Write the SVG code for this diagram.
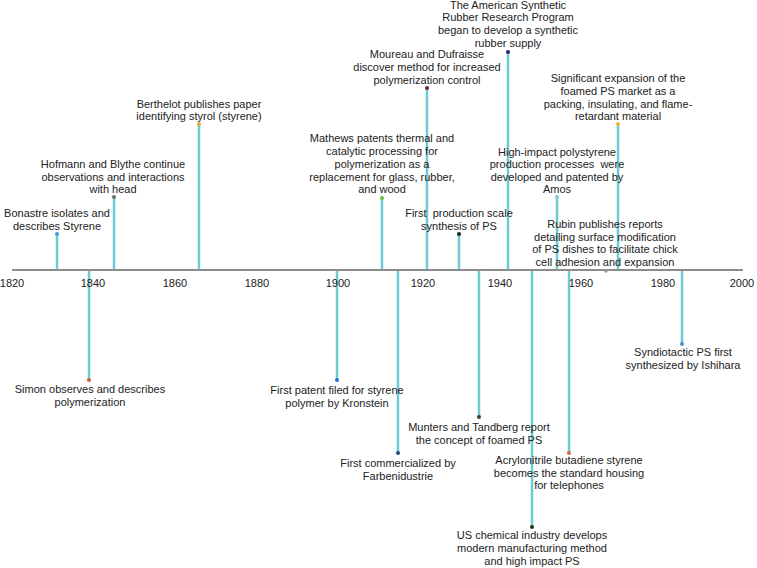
<svg xmlns="http://www.w3.org/2000/svg" width="757" height="568" viewBox="0 0 757 568">
<style>
.stem{stroke:#6ccbd3;stroke-width:2.5;fill:none}
.axis{stroke:#8c8c8c;stroke-width:2;fill:none}
text{font-family:"Liberation Sans",Arial,sans-serif;font-size:11px;fill:#222;text-anchor:middle}
</style>
<rect width="757" height="568" fill="#fff"/>
<g id="connectors">
<line class="stem" x1="57" y1="270" x2="57" y2="234"/>
<line class="stem" x1="89" y1="270" x2="89" y2="380"/>
<line class="stem" x1="114" y1="270" x2="114" y2="197"/>
<line class="stem" x1="199" y1="270" x2="199" y2="124"/>
<line class="stem" x1="337" y1="270" x2="337" y2="380"/>
<line class="stem" x1="382" y1="270" x2="382" y2="198"/>
<line class="stem" x1="398" y1="270" x2="398" y2="453"/>
<line class="stem" x1="427" y1="270" x2="427" y2="88"/>
<line class="stem" x1="459" y1="270" x2="459" y2="234"/>
<line class="stem" x1="479" y1="270" x2="479" y2="417"/>
<line class="stem" x1="508" y1="270" x2="508" y2="52"/>
<line class="stem" x1="532" y1="270" x2="532" y2="527"/>
<line class="stem" x1="557" y1="270" x2="557" y2="197"/>
<line class="stem" x1="569" y1="270" x2="569" y2="453"/>
<line class="stem" x1="618" y1="270" x2="618" y2="124"/>
<line class="stem" x1="682" y1="270" x2="682" y2="344"/>
</g>
<g id="axis">
<line class="axis" x1="12" y1="270" x2="743" y2="270"/>
<text x="12" y="287">1820</text>
<text x="93" y="287">1840</text>
<text x="175" y="287">1860</text>
<text x="257" y="287">1880</text>
<text x="338" y="287">1900</text>
<text x="423" y="287">1920</text>
<text x="500" y="287">1940</text>
<text x="581" y="287">1960</text>
<text x="663" y="287">1980</text>
<text x="742" y="287">2000</text>
</g>
<g id="e1831"><circle cx="57" cy="234" r="2" fill="#3d9bd6"/><text x="57" y="217">Bonastre isolates and</text><text x="57" y="230">describes Styrene</text></g>
<g id="e1839"><circle cx="89" cy="380" r="2" fill="#e05a2b"/><text x="90" y="393">Simon observes and describes</text><text x="90" y="406">polymerization</text></g>
<g id="e1845"><circle cx="114" cy="197" r="2" fill="#6e6e6e"/><text x="113" y="168">Hofmann and Blythe continue</text><text x="113" y="181">observations and interactions</text><text x="113" y="193">with head</text></g>
<g id="e1866"><circle cx="199" cy="124" r="2" fill="#e8a83a"/><text x="199" y="108">Berthelot publishes paper</text><text x="199" y="120">identifying styrol (styrene)</text></g>
<g id="e1900"><circle cx="337" cy="380" r="2" fill="#2f6fd0"/><text x="337" y="394">First patent filed for styrene</text><text x="337" y="407">polymer by Kronstein</text></g>
<g id="e1911"><circle cx="382" cy="198" r="2" fill="#6abf3a"/><text x="382" y="142">Mathews patents thermal and</text><text x="382" y="155">catalytic processing for</text><text x="382" y="168">polymerization as a</text><text x="382" y="181">replacement for glass, rubber,</text><text x="382" y="193">and wood</text></g>
<g id="e1915"><circle cx="398" cy="453" r="2" fill="#1f4f7a"/><text x="398" y="467">First commercialized by</text><text x="398" y="480">Farbenidustrie</text></g>
<g id="e1922"><circle cx="427" cy="88" r="2" fill="#7a1f2a"/><text x="427" y="58">Moureau and Dufraisse</text><text x="427" y="71">discover method for increased</text><text x="427" y="84">polymerization control</text></g>
<g id="e1930"><circle cx="459" cy="234" r="2" fill="#222"/><text x="459" y="217" xml:space="preserve">First  production scale</text><text x="459" y="230">synthesis of PS</text></g>
<g id="e1935"><circle cx="479" cy="417" r="2" fill="#4a3a2a"/><text x="479" y="431">Munters and Tandberg report</text><text x="479" y="444">the concept of foamed PS</text></g>
<g id="e1942"><circle cx="508" cy="52" r="2" fill="#1a2a6a"/><text x="508" y="9">The American Synthetic</text><text x="508" y="21">Rubber Research Program</text><text x="508" y="34">began to develop a synthetic</text><text x="508" y="47">rubber supply</text></g>
<g id="e1948"><circle cx="532" cy="527" r="2" fill="#1a3a1a"/><text x="532" y="539">US chemical industry develops</text><text x="532" y="552">modern manufacturing method</text><text x="532" y="565">and high impact PS</text></g>
<g id="e1954"><circle cx="557" cy="197" r="2" fill="#7dcfd8"/><text x="557" y="156">High-impact polystyrene</text><text x="557" y="168" xml:space="preserve">production processes  were</text><text x="557" y="181">developed and patented by</text><text x="557" y="193">Amos</text></g>
<g id="e1957"><circle cx="569" cy="453" r="2" fill="#e0673a"/><text x="569" y="464">Acrylonitrile butadiene styrene</text><text x="569" y="477">becomes the standard housing</text><text x="569" y="489">for telephones</text></g>
<g id="e1966"><circle cx="606" cy="271" r="1.8" fill="#9a9a9a"/><text x="605" y="228">Rubin publishes reports</text><text x="605" y="241">detailing surface modification</text><text x="605" y="253">of PS dishes to facilitate chick</text><text x="605" y="266">cell adhesion and expansion</text></g>
<g id="e1969"><circle cx="618" cy="124" r="2" fill="#f0b43a"/><text x="618" y="82">Significant expansion of the</text><text x="618" y="95">foamed PS market as a</text><text x="618" y="108">packing, insulating, and flame-</text><text x="618" y="120">retardant material</text></g>
<g id="e1985"><circle cx="682" cy="344" r="2" fill="#3a9ad0"/><text x="683" y="356">Syndiotactic PS first</text><text x="683" y="369">synthesized by Ishihara</text></g>
</svg>
